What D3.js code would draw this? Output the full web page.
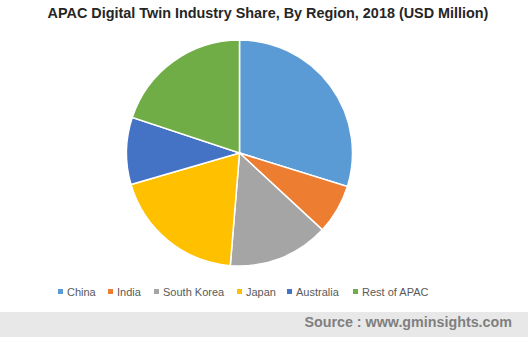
<!DOCTYPE html>
<html>
<head>
<meta charset="utf-8">
<script src="https://cdn.jsdelivr.net/npm/d3@7"></script>
<style>
  body { margin: 0; background: #fff; }
  text { font-family: "Liberation Sans", Arial, sans-serif; }
</style>
</head>
<body>
<div id="chart"></div>
<script>
const width = 528;
const height = 337;

// Region shares
const regions = ["China", "India", "South Korea", "Japan", "Australia", "Rest of APAC"];
const shares = [29.8, 7.1, 14.4, 19.2, 9.6, 19.9];
const colors = ["#5B9BD5", "#ED7D31", "#A5A5A5", "#FFC000", "#4472C4", "#70AD47"];

const data = regions.map((r, i) => ({ region: r, value: shares[i] }));

const svg = d3.select("#chart").append("svg")
  .attr("width", width)
  .attr("height", height);

// Title
svg.append("text")
  .attr("x", 268)
  .attr("y", 18)
  .attr("text-anchor", "middle")
  .attr("font-size", "14.4px")
  .attr("font-weight", "bold")
  .attr("fill", "#262626")
  .text("APAC Digital Twin Industry Share, By Region, 2018 (USD Million)");

const color = d3.scaleOrdinal().domain(regions).range(colors);

const pie = d3.pie().value(d => d.value).sort(null);
const arc = d3.arc().innerRadius(0).outerRadius(113);

svg.append("g")
  .attr("transform", "translate(239.5,153)")
  .selectAll("path")
  .data(pie(data))
  .join("path")
  .attr("d", arc)
  .attr("fill", d => color(d.data.region))
  .attr("stroke", "#fff")
  .attr("stroke-width", 1.5);

// Legend
const legendX = [58, 108, 154, 237, 287, 353];
const legend = svg.append("g")
  .selectAll("g")
  .data(regions)
  .join("g")
  .attr("transform", (d, i) => `translate(${legendX[i]},292)`);

legend.append("rect")
  .attr("x", 0)
  .attr("y", -3)
  .attr("width", 5)
  .attr("height", 5)
  .attr("fill", d => color(d));

legend.append("text")
  .attr("x", 9)
  .attr("y", 4)
  .attr("font-size", "11px")
  .attr("fill", "#595959")
  .text(d => d);

// Source footer
svg.append("rect")
  .attr("x", 0)
  .attr("y", 312)
  .attr("width", width)
  .attr("height", height - 312)
  .attr("fill", "#E8E8E8");

svg.append("text")
  .attr("x", 512)
  .attr("y", 327)
  .attr("text-anchor", "end")
  .attr("font-size", "14.3px")
  .attr("font-weight", "bold")
  .attr("fill", "#7F7F7F")
  .text("Source : www.gminsights.com");
</script>
</body>
</html>
